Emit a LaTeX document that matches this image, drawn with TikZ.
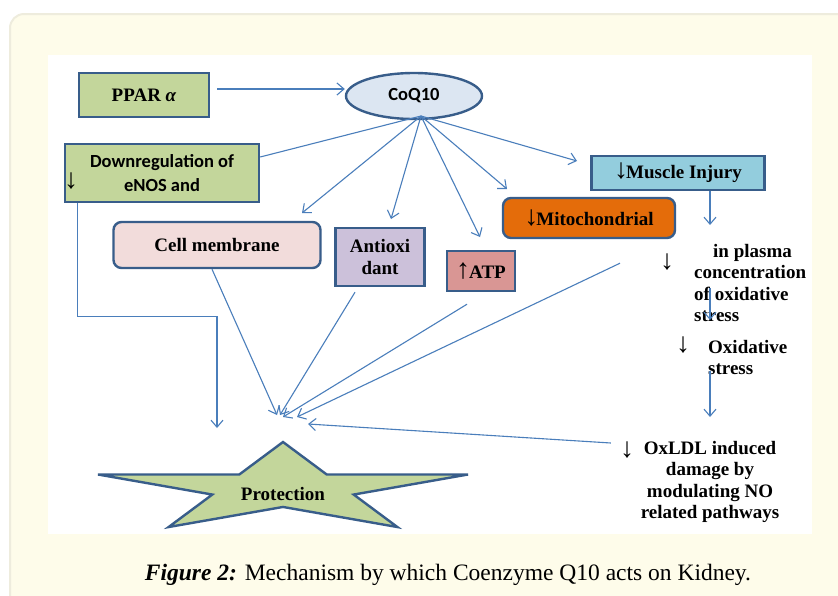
\documentclass[tikz,border=0pt]{standalone}
\usepackage{fontspec}
\setmainfont{Liberation Serif}
\newfontfamily\calfont{Carlito}
\usetikzlibrary{arrows.meta,shapes.geometric}
\definecolor{panel}{HTML}{FEFCEA}
\definecolor{panelrim}{HTML}{EEECDD}
\definecolor{boxedge}{HTML}{385D8A}
\definecolor{linkblue}{HTML}{4A7EBB}
\definecolor{greenfill}{HTML}{C3D69B}
\definecolor{coqfill}{HTML}{DCE6F2}
\definecolor{cellfill}{HTML}{F2DCDB}
\definecolor{antifill}{HTML}{CCC1DA}
\definecolor{atpfill}{HTML}{D99694}
\definecolor{mitofill}{HTML}{E46C0A}
\definecolor{musfill}{HTML}{93CDDD}
\newcommand\bigdn{{\mdseries\fontsize{28}{21}\selectfont ↓}}
\newcommand\bigup{{\mdseries\fontsize{28}{21}\selectfont ↑}}
\tikzset{
  arr/.style={draw=linkblue, line width=1.1pt, -{Straight Barb[length=7pt,width=12pt]}},
  link/.style={draw=linkblue, line width=1.1pt},
  timesb/.style={font=\bfseries\fontsize{19}{21.5}\selectfont},
  calb/.style={font=\calfont\bfseries\fontsize{18.5}{24}\selectfont},
  sqbox/.style={draw=boxedge, line width=2.4pt, timesb, inner sep=0pt, align=center},
  rdbox/.style={sqbox, rounded corners=8pt},
  txt/.style={timesb, inner sep=0pt},
  dnarr/.style={font=\fontsize{28}{21}\selectfont, inner sep=0pt},
}
\begin{document}
\begin{tikzpicture}[x=1pt, y=-1pt]
  \useasboundingbox (0,0) rectangle (838,595);
  \fill[panel, draw=panelrim, line width=2pt, rounded corners=14pt] (10,14) rectangle (870,630);
  \fill[white] (48,55) rectangle (812,534);

  \node[sqbox, fill=greenfill, minimum width=130, minimum height=44] (ppar) at (144,95) {PPAR {\itshape α}};
  \node[ellipse, draw=boxedge, line width=2.4pt, fill=coqfill, calb, inner sep=0pt, minimum width=136, minimum height=46] (coq) at (414,96) {CoQ10};
  \node[sqbox, calb, fill=greenfill, minimum width=194, minimum height=58] (down) at (162,173) {Downregulation of\\eNOS and};
  \node[dnarr] (dn1) at (71,181) {↓};
  \node[rdbox, fill=cellfill, minimum width=207, minimum height=46] (cell) at (217,245) {Cell membrane};
  \node[sqbox, fill=antifill, minimum width=89, minimum height=58] (anti) at (380,257) {Antioxi\\dant};
  \node[sqbox, fill=atpfill, minimum width=68, minimum height=40] (atp) at (481,271) {\bigup\kern-1pt ATP};
  \node[rdbox, fill=mitofill, minimum width=172, minimum height=40] (mito) at (589,218) {\bigdn\kern-2pt Mitochondrial};
  \node[sqbox, fill=musfill, minimum width=173, minimum height=34] (muscle) at (678,173) {\bigdn\kern-2pt Muscle Injury};

  \node[txt, align=left, anchor=north west] (plasma) at (694,244) {\hspace*{19pt}in plasma\\concentration\\of oxidative\\stress};
  \node[dnarr] (dn2) at (667,262) {↓};
  \node[txt, align=left, anchor=north west] (oxid) at (708,340) {Oxidative\\stress};
  \node[dnarr] (dn3) at (683,345) {↓};
  \node[txt, align=center, anchor=north] (oxldl) at (710,441) {OxLDL induced\\damage by\\modulating NO\\related pathways};
  \node[dnarr] (dn4) at (627,450) {↓};

  \draw[draw=boxedge, line width=2.4pt, fill=greenfill, shift={(283,489)}, xscale=4.14]
    (-90:47) \foreach \k in {1,...,9} { -- ({-90+36*\k}:{isodd(\k) ? 17.95 : 47}) } -- cycle;
  \node[txt] (prot) at (283,494) {Protection};

  \node[font=\fontsize{23.5}{27}\selectfont, inner sep=0pt] (cap) at (448,575) {\textbf{\textit{Figure 2:}} Mechanism by which Coenzyme Q10 acts on Kidney.};

  \coordinate (hub) at (421,116);
  \coordinate (tcell) at (302,213);
  \coordinate (tanti) at (391,219);
  \coordinate (tatp) at (480,237);
  \coordinate (tmito) at (507,189);
  \coordinate (tmus) at (577,161);
  \coordinate (tdown) at (217,428);
  \coordinate (pcell) at (277,415);
  \coordinate (panti) at (280,415);
  \coordinate (patp) at (283,417);
  \coordinate (pmito) at (297,417);
  \coordinate (pox) at (308,424);
  \coordinate (tpl) at (710,225);
  \coordinate (spl) at (710,288);
  \coordinate (tox) at (710,320);
  \coordinate (sox) at (710,371);
  \coordinate (tld) at (710,417);

  \draw[arr, shorten <=7pt] ([yshift=6pt]ppar.east) -- ([yshift=6pt]ppar.east -| coq.west);
  \draw[link] (hub) -- ([yshift=16pt]down.east);
  \foreach \t in {tcell,tanti,tatp,tmito,tmus}
    \draw[arr] (hub) -- (\t);
  \draw[arr] ([xshift=14pt]down.south west) -- ++(0,113) -| (tdown);
  \draw[arr] ([xshift=-5pt]cell.south) -- (pcell);
  \draw[arr] ([shift={(-25pt,-5pt)}]anti.south) -- (panti);
  \draw[arr] ([shift={(-14pt,-12pt)}]atp.south) -- (patp);
  \draw[arr] ([shift={(31pt,-24pt)}]mito.south) -- (pmito);
  \draw[arr] ([shift={(-9pt,7pt)}]dn4.west) -- (pox);
  \draw[arr] (muscle.south -| tpl) -- (tpl);
  \draw[arr] (spl) -- (tox);
  \draw[arr] (sox) -- (tld);
\end{tikzpicture}
\end{document}
